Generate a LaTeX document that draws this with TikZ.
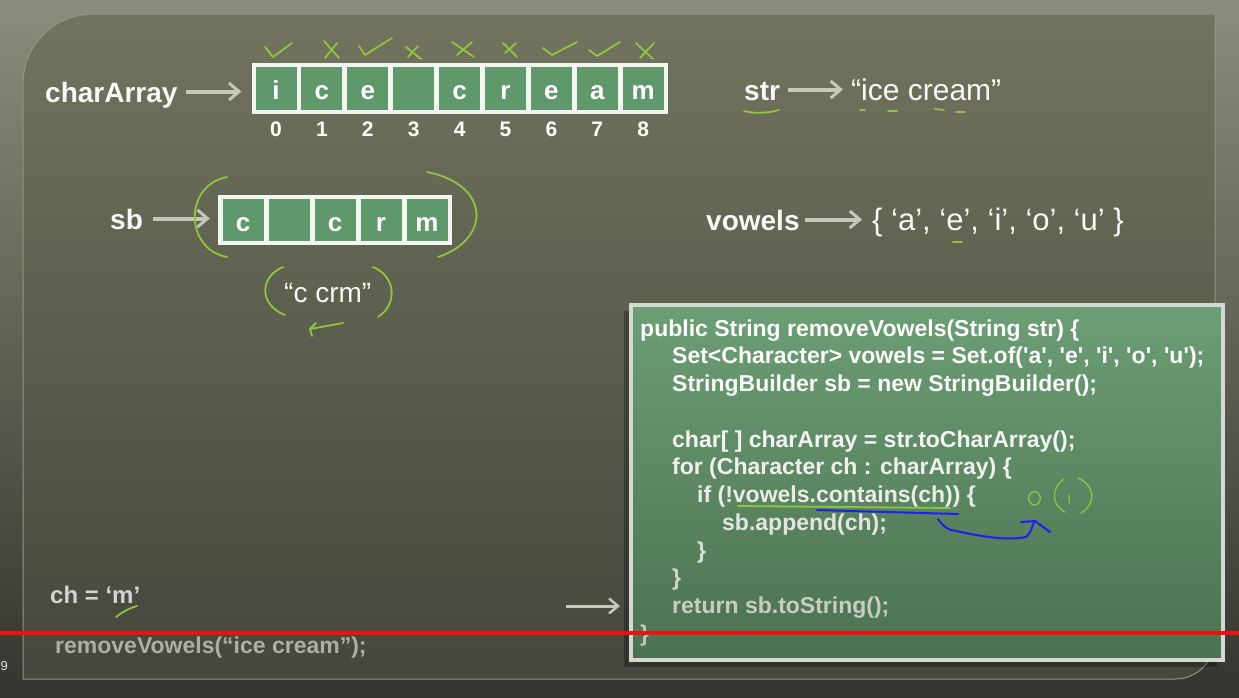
\documentclass[tikz,border=0pt]{standalone}
\usepackage{fontspec}
\setmainfont{Liberation Sans}
\usetikzlibrary{arrows.meta}

\newcommand\setfs[1]{\fontsize{#1}{#1}\selectfont}
\newcommand\chq[1]{\textquotesingle#1\textquotesingle}

\definecolor{outerTop}{HTML}{8A8D7B}
\definecolor{outerMid}{HTML}{6C6E5F}
\definecolor{outerBot}{HTML}{34352E}
\definecolor{boardTop}{HTML}{72745F}
\definecolor{boardMid}{HTML}{606153}
\definecolor{boardBot}{HTML}{45463C}
\definecolor{boardEdge}{HTML}{939582}
\definecolor{cellGreen}{HTML}{5F986B}
\definecolor{frameWhite}{HTML}{F3F5F1}
\definecolor{codeTop}{HTML}{6C9E74}
\definecolor{codeBot}{HTML}{4C7151}
\definecolor{codeEdge}{HTML}{D6D9D3}
\definecolor{arrowGrey}{HTML}{C7C7BA}
\definecolor{ink}{HTML}{8DC63F}
\definecolor{pen}{HTML}{1F1FF0}
\definecolor{txtWhite}{HTML}{F8F8F6}
\definecolor{txtTop}{HTML}{FFFFFF}
\definecolor{txtBot}{HTML}{B9BEB6}
\definecolor{cue}{HTML}{EE1111}

\begin{document}
\begin{tikzpicture}[x=1pt,y=-1pt,
  lbl/.style={text=txtWhite, font=\bfseries\setfs{28}, inner sep=0pt,
              text height=21pt, text depth=0pt, anchor=base west},
  val/.style={text=txtWhite, font=\setfs{30}, inner sep=0pt,
              text height=21pt, text depth=0pt, anchor=base west},
  frame/.style={fill=frameWhite, inner sep=0pt, draw=none},
  cell/.style={fill=cellGreen, inner sep=0pt, minimum width=41pt, minimum height=43pt,
               text=white, font=\bfseries\setfs{26}, text height=22.5pt, text depth=0pt},
  idx/.style={text=white, font=\bfseries\setfs{21}, inner sep=0pt, anchor=base},
  garrow/.style={draw=arrowGrey, line width=4pt,
                 -{Straight Barb[length=10pt,width=17pt,line width=3pt]}},
  hand/.style={draw=ink, line width=1.8pt, line cap=round, line join=round},
  bluepen/.style={draw=pen, line width=2pt, line cap=round, line join=round},
  codebox/.style={draw=codeEdge, line width=3.5pt, top color=codeTop, bottom color=codeBot,
                  inner sep=0pt, anchor=north west},
  code/.style={font=\bfseries\setfs{23}, inner sep=0pt, anchor=base west}
]
\useasboundingbox (0,0) rectangle (1239,697);
\clip (0,0) rectangle (1239,697);

% backdrop and chalkboard panel
\shade[top color=outerTop, middle color=outerMid, bottom color=outerBot]
  (0,0) rectangle (1239,697);
\shade[draw=boardEdge, line width=1pt, top color=boardTop, middle color=boardMid, bottom color=boardBot]
  (23,679) -- (23,84) .. controls (23,45.3) and (54.3,14) .. (93,14)
  -- (1215,14) -- (1215,639) .. controls (1215,661) and (1197,679) .. (1175,679) -- cycle;

% charArray and its cells
\node[lbl] (lblChar) at (45,102) {charArray};
\node[frame, minimum width=416.2pt, minimum height=51pt] (arrChar) at (459.6,88.5) {};
\foreach \ch [count=\i from 0] in {i,c,e,{},c,r,e,a,m} {
  \node[cell] (ca\i) at ({276+45.9*\i},88.5) {\ch};
  \node[idx] (ix\i) at ({276+45.9*\i},136) {\i};
}
\draw[garrow, shorten <=8pt, shorten >=10pt] (lblChar.east) -- (lblChar.east -| arrChar.west);

% str
\node[lbl] (lblStr) at (744,100) {str};
\node[val] (valStr) at (851,100) {“ice cream”};
\draw[garrow, shorten <=8pt, shorten >=8pt] (lblStr.east) -- (lblStr.east -| valStr.west);

% sb and its cells
\node[lbl] (lblSb) at (110,229) {sb};
\node[frame, minimum width=234pt, minimum height=50pt] (arrSb) at (335,220) {};
\foreach \ch [count=\i from 0] in {c,{},c,r,m} {
  \node[cell, minimum height=42pt, text height=22pt] (sc\i) at ({243+46*\i},220) {\ch};
}
\draw[garrow, shorten <=10pt, shorten >=8pt] (lblSb.east) -- (lblSb.east -| arrSb.west);
\node[val, font=\setfs{28}] (sbStr) at (284,302) {“c crm”};

% vowels
\node[lbl] (lblVow) at (706,230) {vowels};
\node[val, font=\setfs{31}] (valVow) at (872,230) {\{ ‘a’, ‘e’, ‘i’, ‘o’, ‘u’ \}};
\draw[garrow, shorten <=5pt, shorten >=10pt] (lblVow.east) -- (lblVow.east -| valVow.west);

% code panel
\fill[black, opacity=0.28] (624,311) rectangle (1217,667);
\node[codebox, minimum width=592pt, minimum height=355pt] (code) at (629,303) {};
\node[code, text=txtTop!100!txtBot] (k1) at (640,336) {public String removeVowels(String str) \{};
\node[code, text=txtTop!96!txtBot] (k2) at (672,363.75) {Set<Character> vowels = Set.of(\chq{a}, \chq{e}, \chq{i}, \chq{o}, \chq{u});};
\node[code, text=txtTop!92!txtBot] (k3) at (672,391.5) {StringBuilder sb = new StringBuilder();};
\node[code, text=txtTop!84!txtBot] (k5) at (672,447) {char[ ] charArray = str.toCharArray();};
\node[code, text=txtTop!78!txtBot] (k6) at (672,474.75) {for (Character ch : charArray) \{};
\node[code, text=txtTop!70!txtBot] (k7) at (697,502.5) {if (!vowels.contains(ch)) \{};
\node[code, text=txtTop!60!txtBot] (k8) at (722,530.25) {sb.append(ch);};
\node[code, text=txtTop!48!txtBot] (k9) at (697,558) {\}};
\node[code, text=txtTop!36!txtBot] (k10) at (672,585.75) {\}};
\node[code, text=txtTop!22!txtBot] (k11) at (672,613.5) {return sb.toString();};
\node[code, text=txtTop!10!txtBot] (k12) at (640,641.25) {\}};

% current character and the call
\node[code, font=\bfseries\setfs{24}, text=txtWhite!85!black] (chv) at (50,603) {ch = ‘m’};
\node[code, text=txtBot!92!black] (call) at (55,653) {removeVowels(“ice cream”);};
\coordinate (ptr) at (566,606);
\draw[garrow, line width=3pt, -{Straight Barb[length=9pt,width=15pt,line width=2.5pt]}, shorten >=9pt]
  (ptr) -- (ptr -| code.west);

% page number at the edge
\node[anchor=base west, inner sep=0pt, text=white!80!gray, font=\setfs{13}] (pg) at (0.5,670) {9};

% pen marks: ticks and crosses over the characters
\draw[hand] (265,47) -- (273,57) -- (292,43);
\draw[hand] (324,41) -- (339,58) (337,43) -- (325,58);
\draw[hand] (359,46) -- (365,55) -- (392,38);
\draw[hand] (406,47) -- (421,59) (418,46) -- (408,57);
\draw[hand] (452,42) -- (474,57) (472,42) -- (457,55);
\draw[hand] (503,43) -- (517,57) (516,43) -- (505,53);
\draw[hand] (543,48) -- (552,55) -- (577,42);
\draw[hand] (589,50) -- (597,56) -- (620,42);
\draw[hand] (636,43) -- (653,59) (654,43) -- (640,58);

% pen marks: underlines
\draw[hand] (744,111) .. controls (756,114) and (768,113) .. (779,110);
\draw[hand] (860,110) -- (865,110) (888,111) -- (897,111) (935,109) -- (944,110) (956,112) -- (965,112);
\draw[hand] (953,242) -- (962,242);
\draw[hand] (116,617) .. controls (124,611) and (130,608) .. (137,606);

% pen marks: brackets around sb and its string
\draw[hand] (227,177) .. controls (184,185) and (184,249) .. (227,257);
\draw[hand] (427,172) .. controls (492,185) and (490,240) .. (438,257);
\draw[hand] (283,267) .. controls (259,277) and (259,305) .. (285,315);
\draw[hand] (373,267) .. controls (397,277) and (397,305) .. (378,317);
\draw[hand] (343,323) -- (310,329) (316,323) -- (310,329) -- (312,336);

% pen marks on the code
\draw[hand] (738,506) -- (950,508);
\draw[bluepen] (817,510) -- (958,514);
\draw[bluepen] (938,519) .. controls (943,526) and (947,530) .. (956,531)
  .. controls (980,536) and (1005,541) .. (1026,537) .. controls (1031,533) and (1032,527) .. (1034,522);
\draw[bluepen] (1021,522) -- (1035,521) -- (1050,532);
\draw[hand, line width=1.3pt] (1034.5,498.3) ellipse [x radius=5.8, y radius=6.7];
\draw[hand, line width=1.3pt] (1064,479) .. controls (1051,488) and (1051,505) .. (1065,512);
\draw[hand, line width=1.3pt] (1069,495) -- (1069.3,503);
\draw[hand, line width=1.3pt] (1078,478) .. controls (1096,486) and (1096,504) .. (1081,513);

% cue line across the frame
\draw[cue, line width=3.2pt] (0,633) -- (1239,633);
\end{tikzpicture}
\end{document}
